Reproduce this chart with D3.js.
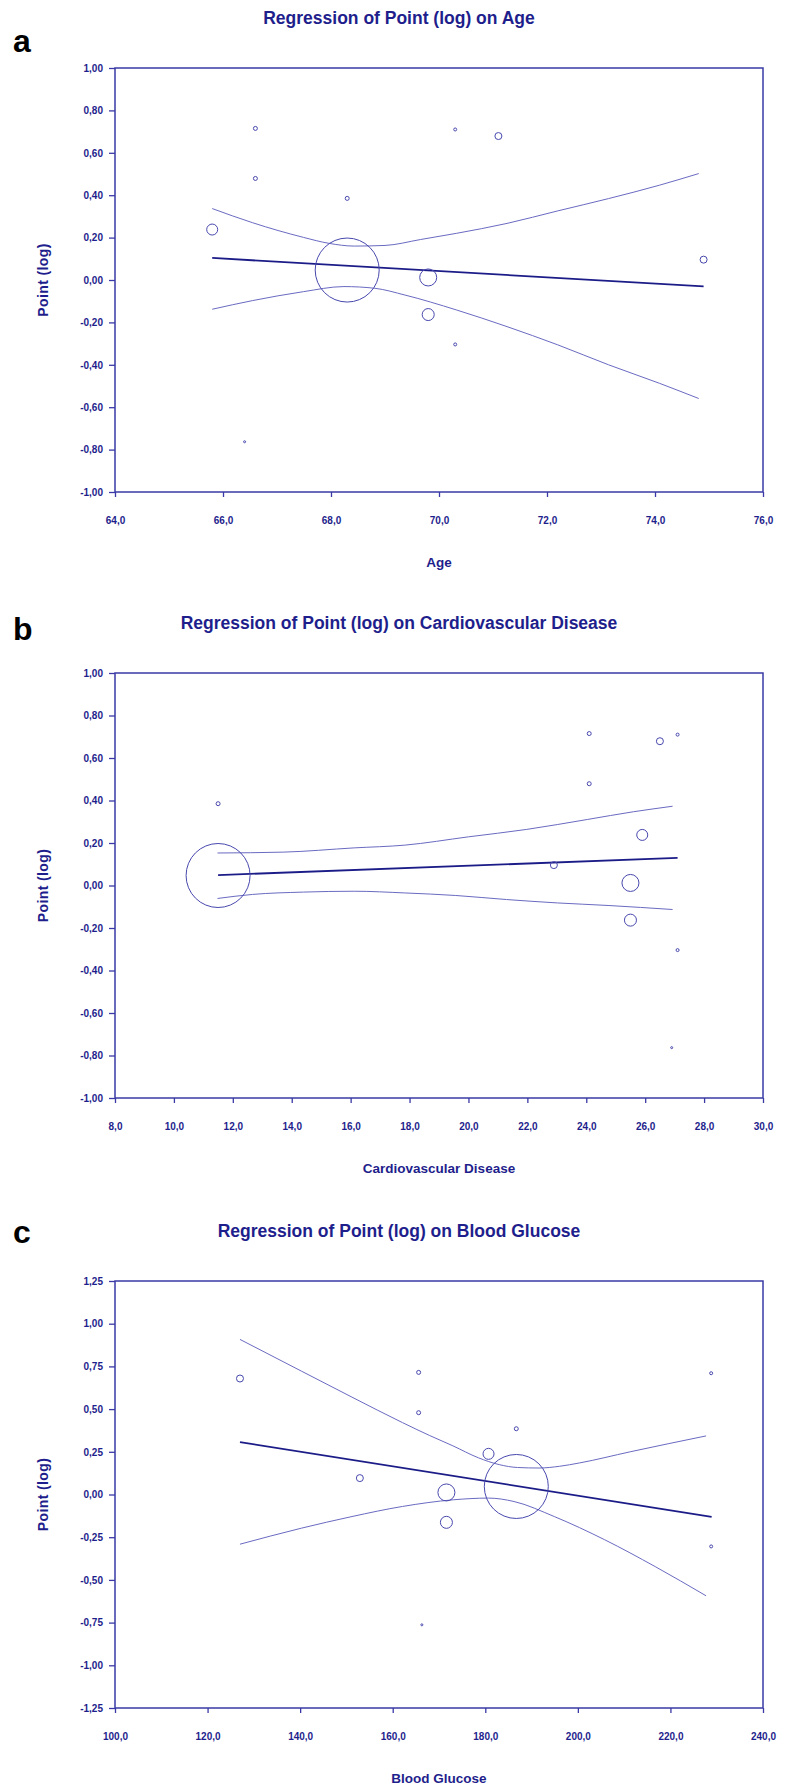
<!DOCTYPE html>
<html>
<head>
<meta charset="utf-8">
<script src="https://cdn.jsdelivr.net/npm/d3@7"></script>
<style>
  body { margin: 0; background: #fff; }
  svg { display: block; font-family: "Liberation Sans", Arial, sans-serif; }
  .tick text { font-size: 10px; font-weight: bold; fill: #1e1e8c; }
  .tick line { stroke: #3a3aa6; stroke-width: 1.3; }
</style>
</head>
<body>
<svg id="chart" width="791" height="1786"></svg>
<script>
// one row per study
var age      = [65.8, 66.6, 66.6, 68.3, 70.3, 71.1, 74.9, 68.3, 69.8, 69.8, 70.3, 66.4];
var cvd      = [25.9, 24.1, 24.1, 11.5, 27.1, 26.5, 22.9, 11.5, 25.5, 25.5, 27.1, 26.9];
var glucose  = [180.7, 165.6, 165.6, 186.7, 228.8, 127.0, 152.9, 186.7, 171.6, 171.6, 228.8, 166.3];
var pointLog = [0.238, 0.715, 0.479, 0.385, 0.710, 0.679, 0.096, 0.047, 0.012, -0.163, -0.304, -0.763];
var weight   = [2.95, 0.39, 0.39, 0.39, 0.22, 1.2, 1.2, 100, 7.06, 3.52, 0.22, 0.1];

// fitted lines and confidence bands
var ageFitX = [65.8, 74.9];
var ageFitY = [0.104, -0.030];
var ageUpX  = [65.80, 66.55, 67.49, 67.96, 68.43, 69.00, 69.66, 70.32, 71.26, 72.20, 73.14, 74.08, 74.81];
var ageUpY  = [0.337, 0.270, 0.201, 0.173, 0.160, 0.163, 0.191, 0.220, 0.267, 0.326, 0.384, 0.447, 0.502];
var ageLoX  = [65.80, 66.55, 67.49, 68.24, 68.81, 69.37, 70.32, 71.26, 72.20, 73.14, 74.08, 74.81];
var ageLoY  = [-0.138, -0.097, -0.055, -0.031, -0.039, -0.071, -0.141, -0.220, -0.306, -0.400, -0.487, -0.559];

var cvdFitX = [11.5, 27.1];
var cvdFitY = [0.049, 0.130];
var cvdUpX  = [11.48, 13.71, 16.12, 17.84, 20.0, 21.98, 24.05, 25.6, 26.93];
var cvdUpY  = [0.153, 0.157, 0.177, 0.190, 0.229, 0.264, 0.311, 0.347, 0.373];
var cvdLoX  = [11.48, 12.67, 14.40, 16.12, 17.84, 19.57, 21.29, 23.02, 24.74, 26.93];
var cvdLoY  = [-0.061, -0.042, -0.031, -0.027, -0.035, -0.047, -0.066, -0.082, -0.094, -0.113];

var gluFitX = [127.0, 228.9];
var gluFitY = [0.307, -0.131];
var gluUpX  = [127.0, 140.3, 151.2, 162.1, 168.0, 173.0, 178.5, 183.0, 187.0, 191.6, 196.0, 200.4, 211.3, 227.7];
var gluUpY  = [0.908, 0.722, 0.570, 0.421, 0.345, 0.285, 0.215, 0.175, 0.158, 0.155, 0.165, 0.185, 0.250, 0.343];
var gluLoX  = [127.0, 140.3, 151.2, 162.1, 173.1, 180.7, 186.2, 194.9, 205.8, 216.7, 227.7];
var gluLoY  = [-0.291, -0.197, -0.129, -0.070, -0.031, -0.021, -0.041, -0.129, -0.265, -0.422, -0.593];

// ticks
var ageTicks = [64, 66, 68, 70, 72, 74, 76];
var cvdTicks = [8, 10, 12, 14, 16, 18, 20, 22, 24, 26, 28, 30];
var gluTicks = [100, 120, 140, 160, 180, 200, 220, 240];
var yTicksAB = [1.0, 0.8, 0.6, 0.4, 0.2, 0.0, -0.2, -0.4, -0.6, -0.8, -1.0];
var yTicksC  = [1.25, 1.0, 0.75, 0.5, 0.25, 0.0, -0.25, -0.5, -0.75, -1.0, -1.25];

var textCol = "#1e1e8c";
var left = 115, right = 763;

var panels = [
	{ letter: "a", title: "Regression of Point (log) on Age", xLabel: "Age",
	  xs: age, xDomain: [64, 76], xTicks: ageTicks,
	  yDomain: [-1, 1], yTicks: yTicksAB, top: 68, bottom: 492, letterY: 52,
	  fit: [ageFitX, ageFitY], up: [ageUpX, ageUpY], lo: [ageLoX, ageLoY] },
	{ letter: "b", title: "Regression of Point (log) on Cardiovascular Disease", xLabel: "Cardiovascular Disease",
	  xs: cvd, xDomain: [8, 30], xTicks: cvdTicks,
	  yDomain: [-1, 1], yTicks: yTicksAB, top: 673, bottom: 1098, letterY: 640,
	  fit: [cvdFitX, cvdFitY], up: [cvdUpX, cvdUpY], lo: [cvdLoX, cvdLoY] },
	{ letter: "c", title: "Regression of Point (log) on Blood Glucose", xLabel: "Blood Glucose",
	  xs: glucose, xDomain: [100, 240], xTicks: gluTicks,
	  yDomain: [-1.25, 1.25], yTicks: yTicksC, top: 1281, bottom: 1708, letterY: 1243,
	  fit: [gluFitX, gluFitY], up: [gluUpX, gluUpY], lo: [gluLoX, gluLoY] }
];

var svg = d3.select("#chart");
svg.append("rect").attr("width", 791).attr("height", 1786).attr("fill", "#fff");

var rScale = d3.scaleSqrt().domain([0, 100]).range([0, 32]);

var comma = function(dec) {
	return function(d) { return d.toFixed(dec).replace(".", ","); };
};

var draw_panel = function(p) {
	var x = d3.scaleLinear().domain(p.xDomain).range([left, right]);
	var y = d3.scaleLinear().domain(p.yDomain).range([p.bottom, p.top]);
	var g = svg.append("g");

	// panel letter and title
	g.append("text")
		.attr("x", 13).attr("y", p.letterY)
		.attr("font-size", 32).attr("font-weight", "bold")
		.attr("fill", "#000")
		.text(p.letter);
	g.append("text")
		.attr("x", 399).attr("y", p.top - 44)
		.attr("text-anchor", "middle")
		.attr("font-size", 17.5).attr("font-weight", "bold")
		.attr("fill", textCol)
		.text(p.title);

	// axes
	g.append("g")
		.attr("transform", "translate(" + left + ",0)")
		.call(d3.axisLeft(y).tickValues(p.yTicks).tickSize(6).tickPadding(6).tickFormat(comma(2)))
		.call(function(a) { a.select(".domain").remove(); });
	g.append("g")
		.attr("transform", "translate(0," + p.bottom + ")")
		.call(d3.axisBottom(x).tickValues(p.xTicks).tickSize(5).tickPadding(20).tickFormat(comma(1)))
		.call(function(a) { a.select(".domain").remove(); });

	// frame
	g.append("rect")
		.attr("x", left).attr("y", p.top)
		.attr("width", right - left).attr("height", p.bottom - p.top)
		.attr("fill", "none")
		.attr("stroke", "#3a3aa6").attr("stroke-width", 1.5);

	// axis titles
	g.append("text")
		.attr("x", (left + right) / 2).attr("y", p.bottom + 75)
		.attr("text-anchor", "middle")
		.attr("font-size", 13.5).attr("font-weight", "bold")
		.attr("fill", textCol)
		.text(p.xLabel);
	g.append("text")
		.attr("transform", "translate(48," + (p.top + p.bottom) / 2 + ") rotate(-90)")
		.attr("text-anchor", "middle")
		.attr("font-size", 14).attr("font-weight", "bold")
		.attr("letter-spacing", 0.4)
		.attr("fill", textCol)
		.text("Point (log)");

	// confidence bands
	var band = d3.line()
		.x(function(d) { return x(d[0]); })
		.y(function(d) { return y(d[1]); })
		.curve(d3.curveMonotoneX);
	[p.up, p.lo].forEach(function(s) {
		g.append("path")
			.datum(d3.zip(s[0], s[1]))
			.attr("d", band)
			.attr("fill", "none")
			.attr("stroke", "#6a6ac2").attr("stroke-width", 1);
	});
	g.append("path")
		.datum(d3.zip(p.fit[0], p.fit[1]))
		.attr("d", d3.line().x(function(d) { return x(d[0]); }).y(function(d) { return y(d[1]); }))
		.attr("fill", "none")
		.attr("stroke", "#1c1c88").attr("stroke-width", 1.8);

	// study bubbles
	g.selectAll("circle.study")
		.data(d3.range(pointLog.length))
		.enter().append("circle")
		.attr("class", "study")
		.attr("cx", function(i) { return x(p.xs[i]); })
		.attr("cy", function(i) { return y(pointLog[i]); })
		.attr("r", function(i) { return Math.max(1, rScale(weight[i])); })
		.attr("fill", "none")
		.attr("stroke", "#4848ae").attr("stroke-width", 1);
};

panels.forEach(draw_panel);
</script>
</body>
</html>
